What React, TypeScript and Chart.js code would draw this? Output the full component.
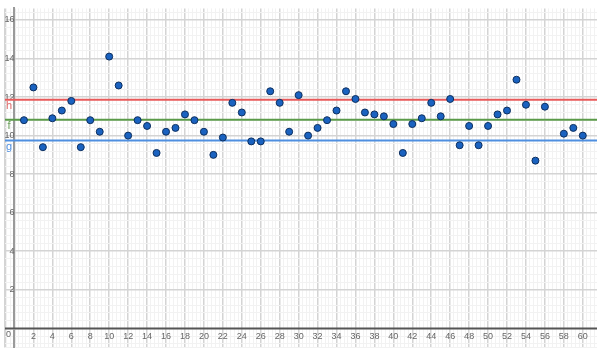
import React, { useEffect, useRef } from "react";
import { Chart, registerables } from "chart.js";

Chart.register(...registerables);

// Sample index (x) and measured value (y); sample 57 is missing in the source
const sampleNumbers = [
  1, 2, 3, 4, 5, 6, 7, 8, 9, 10, 11, 12, 13, 14, 15, 16, 17, 18, 19, 20,
  21, 22, 23, 24, 25, 26, 27, 28, 29, 30, 31, 32, 33, 34, 35, 36, 37, 38, 39, 40,
  41, 42, 43, 44, 45, 46, 47, 48, 49, 50, 51, 52, 53, 54, 55, 56, 58, 59, 60,
];
const sampleValues = [
  10.8, 12.5, 9.4, 10.9, 11.3, 11.8, 9.4, 10.8, 10.2, 14.1,
  12.6, 10.0, 10.8, 10.5, 9.1, 10.2, 10.4, 11.1, 10.8, 10.2,
  9.0, 9.9, 11.7, 11.2, 9.7, 9.7, 12.3, 11.7, 10.2, 12.1,
  10.0, 10.4, 10.8, 11.3, 12.3, 11.9, 11.2, 11.1, 11.0, 10.6,
  9.1, 10.6, 10.9, 11.7, 11.0, 11.9, 9.5, 10.5, 9.5, 10.5,
  11.1, 11.3, 12.9, 11.6, 8.7, 11.5, 10.1, 10.4, 10.0,
];

// Horizontal reference lines
const levelNames = ["h", "f", "g"];
const levelValues = [11.86, 10.82, 9.74];
const levelColors = ["#e85a5a", "#5a9a48", "#4f8fe0"];
const levelTextColors = ["#e06a6a", "#6a9f5a", "#4f8fe0"];

// Axis tick labels
const xTickLabels = [2, 4, 6, 8, 10, 12, 14, 16, 18, 20, 22, 24, 26, 28, 30, 32, 34, 36, 38, 40, 42, 44, 46, 48, 50, 52, 54, 56, 58, 60];
const yTickLabels = [2, 4, 6, 8, 10, 12, 14, 16];
const originLabel = "0";

const X_MIN = -1;
const X_MAX = 61.5;
const Y_MIN = -1;
const Y_MAX = 16.6;
const MAJOR = 2;
const MINOR = 0.4;

function gridValues(min: number, max: number): number[] {
  const out: number[] = [min];
  const start = Math.ceil(min / MINOR);
  const end = Math.floor(max / MINOR);
  for (let k = start; k <= end; k++) {
    const v = Math.round(k * MINOR * 1000) / 1000;
    if (v > min + 1e-6) out.push(v);
  }
  return out;
}

const isMajor = (v: number) => Math.abs(v / MAJOR - Math.round(v / MAJOR)) < 1e-6;
const inList = (list: number[], v: number) => list.some((t) => Math.abs(t - v) < 1e-6);

const FONT_FAMILY = '"Liberation Sans Narrow", "Liberation Sans", Arial, sans-serif';

export default function App() {
  const canvasRef = useRef<HTMLCanvasElement | null>(null);

  useEffect(() => {
    const canvas = canvasRef.current;
    if (!canvas) return;

    const xGrid = gridValues(X_MIN, X_MAX);
    const yGrid = gridValues(Y_MIN, Y_MAX);

    const gridColor = (min: number) => (ctx: any) => {
      const v = ctx.tick ? ctx.tick.value : 0;
      if (Math.abs(v - min) < 1e-6) return "#d4d4d4";
      return isMajor(v) ? "#d4d4d4" : "#f2f2f2";
    };
    const gridWidth = (min: number) => (ctx: any) => {
      const v = ctx.tick ? ctx.tick.value : 0;
      if (Math.abs(v - min) < 1e-6) return 2;
      return isMajor(v) ? 1.5 : 1;
    };

    const annotatePlugin = {
      id: "annotate",
      afterDatasetsDraw(chart: any) {
        const { ctx, scales, chartArea } = chart;
        const xs = scales.x;
        const ys = scales.y;
        const x0 = xs.getPixelForValue(0);
        const y0 = ys.getPixelForValue(0);
        ctx.save();
        ctx.strokeStyle = "#555555";
        ctx.lineWidth = 1.5;
        ctx.beginPath();
        ctx.moveTo(chartArea.left, y0);
        ctx.lineTo(chartArea.right, y0);
        ctx.stroke();
        ctx.textAlign = "center";
        ctx.textBaseline = "middle";
        ctx.font = `9px ${FONT_FAMILY}`;
        ctx.fillStyle = "#666";
        ctx.fillText(originLabel, x0 - 6, y0 + 6);
        ctx.font = `11px ${FONT_FAMILY}`;
        levelNames.forEach((name, i) => {
          ctx.fillStyle = levelTextColors[i];
          ctx.fillText(name, x0 - 5.5, ys.getPixelForValue(levelValues[i]) + 6.5);
        });
        ctx.restore();
      },
    };

    const points = sampleNumbers.map((n, i) => ({ x: n, y: sampleValues[i] }));

    const levelDatasets = levelValues.map((lv, i) => ({
      type: "line" as const,
      label: levelNames[i],
      data: [
        { x: X_MIN, y: lv },
        { x: X_MAX, y: lv },
      ],
      borderColor: levelColors[i],
      borderWidth: 2,
      pointRadius: 0,
      showLine: true,
      fill: false,
      order: 2,
    }));

    const chart = new Chart(canvas, {
      type: "scatter",
      data: {
        datasets: [
          {
            label: "samples",
            data: points,
            backgroundColor: "#1a62c0",
            borderColor: "#0d2f5e",
            borderWidth: 1,
            pointRadius: 3.5,
            order: 1,
          } as any,
          ...levelDatasets,
        ],
      },
      options: {
        responsive: false,
        animation: false,
        devicePixelRatio: 1,
        layout: { padding: { left: 5, right: 0, top: 5, bottom: 5 } },
        plugins: {
          legend: { display: false },
          tooltip: { enabled: false },
        },
        scales: {
          x: {
            type: "linear",
            min: X_MIN,
            max: X_MAX,
            position: { y: 0 } as any,
            afterBuildTicks: (scale: any) => {
              scale.ticks = xGrid.map((v) => ({ value: v }));
            },
            grid: {
              color: gridColor(X_MIN),
              lineWidth: gridWidth(X_MIN),
              drawTicks: false,
              z: -2,
            } as any,
            border: { display: false } as any,
            ticks: {
              autoSkip: false,
              maxRotation: 0,
              minRotation: 0,
              padding: 3,
              color: "#666",
              font: { size: 9, family: FONT_FAMILY },
              callback: (v: any) => (inList(xTickLabels, Number(v)) ? String(Number(v)) : ""),
            },
          },
          y: {
            type: "linear",
            min: Y_MIN,
            max: Y_MAX,
            position: { x: 0 } as any,
            afterBuildTicks: (scale: any) => {
              scale.ticks = yGrid.map((v) => ({ value: v }));
            },
            grid: {
              color: (ctx: any) => {
                const v = ctx.tick ? ctx.tick.value : 1;
                if (Math.abs(v) < 1e-6) return "#555555";
                return isMajor(v) ? "#d4d4d4" : "#f2f2f2";
              },
              lineWidth: (ctx: any) => {
                const v = ctx.tick ? ctx.tick.value : 1;
                if (Math.abs(v) < 1e-6) return 1.5;
                return isMajor(v) ? 1.5 : 1;
              },
              drawTicks: false,
              z: -2,
            } as any,
            border: { display: true, color: "#9a9a9a", width: 2, z: -1 } as any,
            ticks: {
              autoSkip: false,
              padding: 3,
              color: "#666",
              font: { size: 9, family: FONT_FAMILY },
              callback: (v: any) => (inList(yTickLabels, Number(v)) ? String(Number(v)) : ""),
            },
          },
        },
      } as any,
      plugins: [annotatePlugin],
    });

    return () => chart.destroy();
  }, []);

  return (
    <div style={{ position: "fixed", left: 0, top: 0, width: 602, height: 356, background: "#fff" }}>
      <canvas ref={canvasRef} width={602} height={356} style={{ display: "block" }} />
    </div>
  );
}
